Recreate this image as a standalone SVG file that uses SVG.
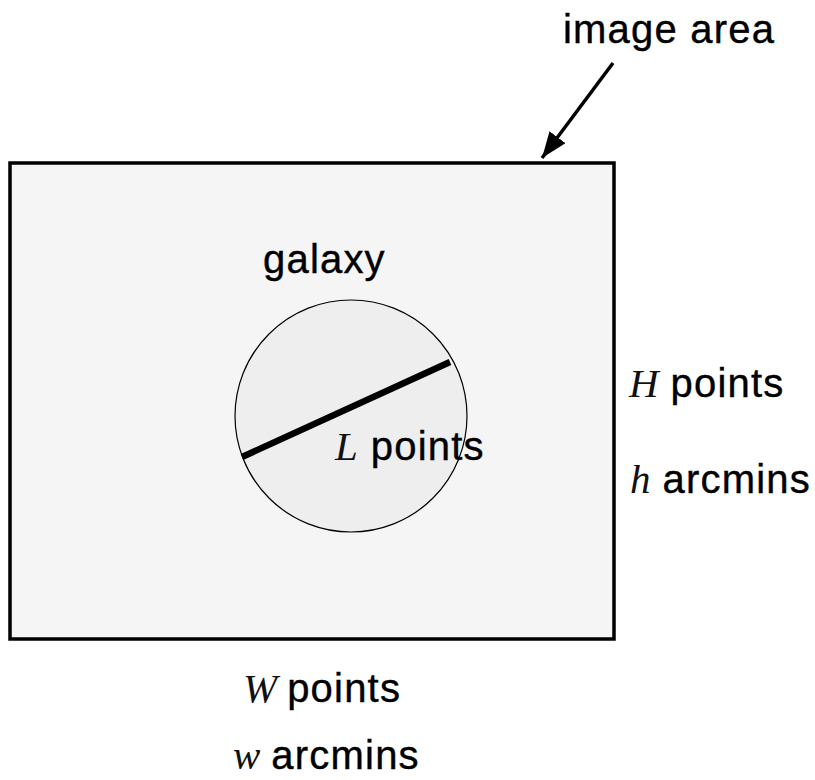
<svg xmlns="http://www.w3.org/2000/svg" width="815" height="780" viewBox="0 0 815 780">
<style>
.s{font-family:"Liberation Sans",Arial,sans-serif;font-size:40px;fill:#000;stroke:#000;stroke-width:0.4;letter-spacing:1.2px}
.i{font-family:"Liberation Serif","Times New Roman",serif;font-style:italic;font-size:41px;fill:#111}
</style>
<defs>
<marker id="ah2" markerWidth="26" markerHeight="20" refX="26" refY="10" orient="auto" markerUnits="userSpaceOnUse" viewBox="0 0 26 20">
<path d="M0,0 L26,10 L0,20 z" fill="#000"/>
</marker>
</defs>
<rect width="815" height="780" fill="#fff"/>
<g id="image-area">
<rect x="10" y="163" width="604" height="476" fill="#f5f5f5" stroke="#000" stroke-width="3.5"/>
</g>
<g id="galaxy">
<circle cx="351" cy="416" r="116" fill="#eeeeee" stroke="#000" stroke-width="1.2"/>
<line x1="242" y1="457" x2="450" y2="362" stroke="#000" stroke-width="6.5"/>
<text class="s" x="263" y="273">galaxy</text>
<text x="335" y="460"><tspan class="i">L</tspan><tspan class="s" dx="13">points</tspan></text>
</g>
<g id="labels">
<text class="s" x="563" y="43">image area</text>
<text x="629" y="397"><tspan class="i">H</tspan><tspan class="s" dx="12">points</tspan></text>
<text x="630" y="493"><tspan class="i">h</tspan><tspan class="s" dx="12">arcmins</tspan></text>
<text x="243" y="702"><tspan class="i">W</tspan><tspan class="s" dx="10">points</tspan></text>
<text x="233" y="769"><tspan class="i">w</tspan><tspan class="s" dx="11">arcmins</tspan></text>
</g>
<g id="connectors">
<line x1="613" y1="63" x2="542" y2="158" stroke="#000" stroke-width="3.5" marker-end="url(#ah2)"/>
</g>
</svg>
